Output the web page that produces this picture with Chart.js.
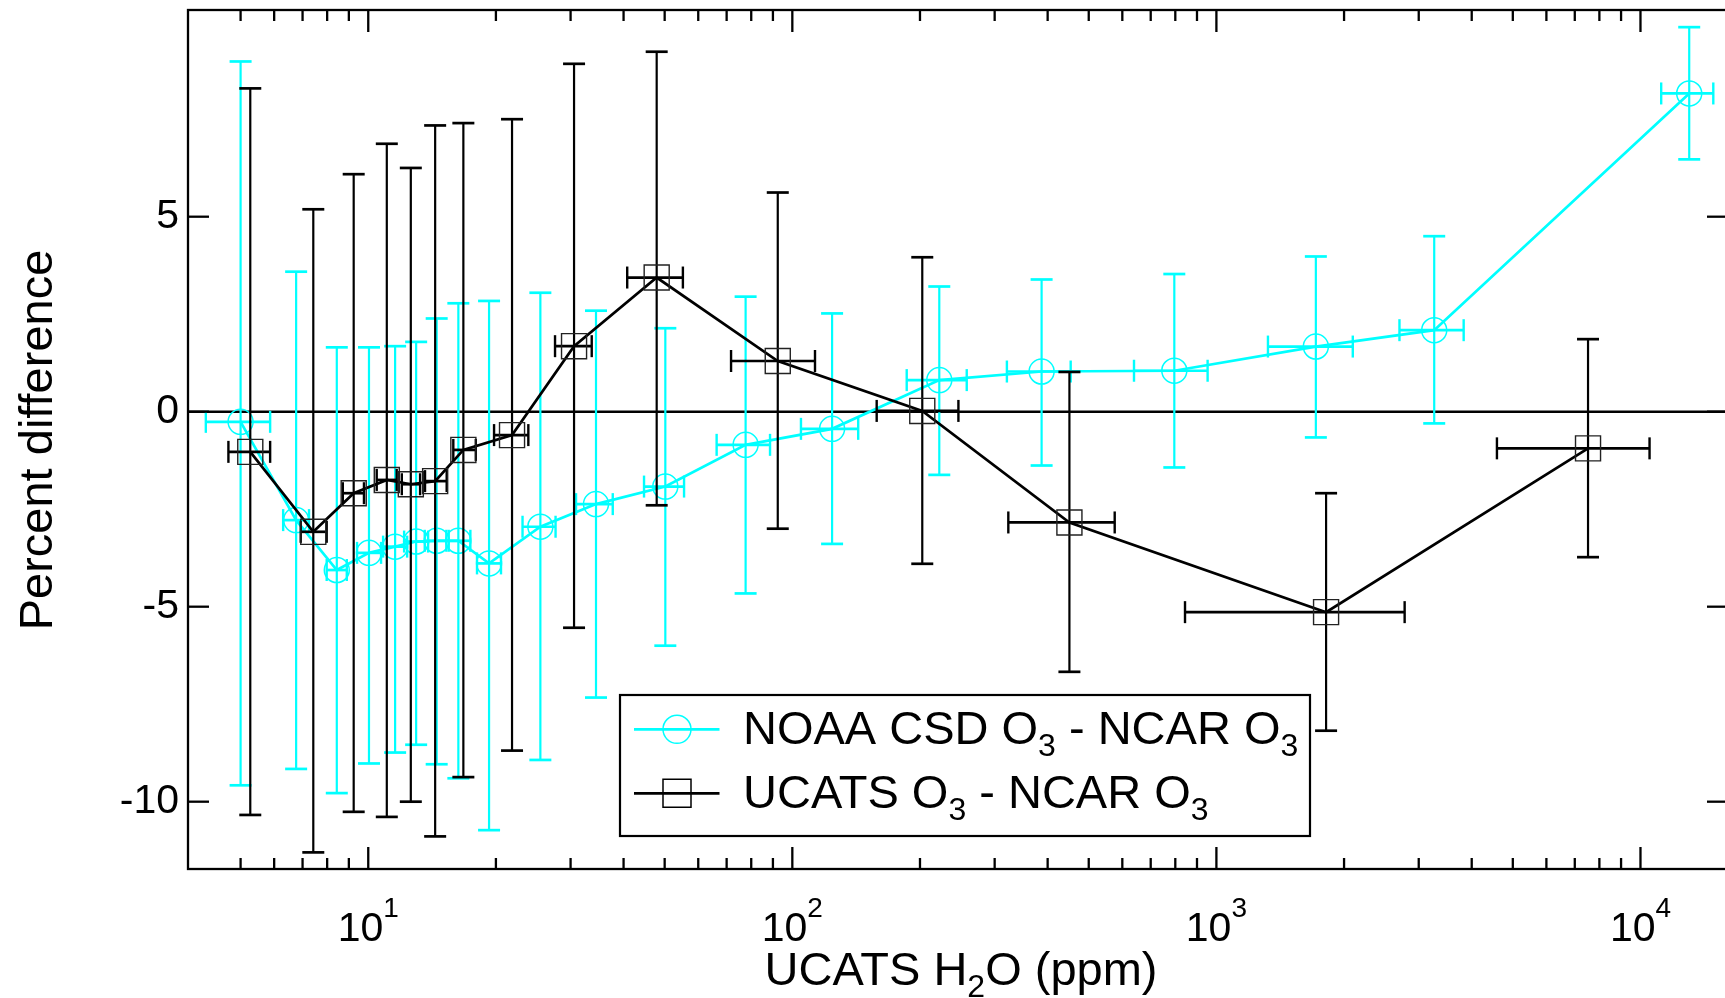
<!DOCTYPE html>
<html>
<head>
<meta charset="utf-8">
<script src="https://cdn.jsdelivr.net/npm/chart.js@4/dist/chart.umd.min.js"></script>
<style>
html,body{margin:0;padding:0;background:#fff;overflow:hidden;}
#wrap{position:absolute;left:0;top:0;width:1731px;height:998px;}
</style>
</head>
<body>
<div id="wrap"><canvas id="c" width="1731" height="998"></canvas></div>
<script>
// ---------------- data ----------------
const seriesNames = [
  [['NOAA CSD O', 0], ['3', 1], [' - NCAR O', 0], ['3', 1]],
  [['UCATS O', 0], ['3', 1], [' - NCAR O', 0], ['3', 1]]
];

// NOAA CSD O3 - NCAR O3 (cyan, circles)
const noaaX   = [5.0, 6.76, 8.43, 10.04, 11.57, 12.97, 14.5, 16.31, 19.27, 25.46, 34.44, 50.18, 77.6, 124.1, 222.1, 387.1, 795.7, 1716, 3263, 13030];
const noaaY   = [-0.26, -2.78, -4.06, -3.62, -3.46, -3.33, -3.31, -3.31, -3.89, -2.95, -2.37, -1.92, -0.85, -0.44, 0.81, 1.03, 1.05, 1.67, 2.09, 8.16];
const noaaYHi = [8.98, 3.59, 1.65, 1.65, 1.68, 1.79, 2.39, 2.78, 2.84, 3.05, 2.59, 2.14, 2.95, 2.52, 3.21, 3.39, 3.53, 3.98, 4.50, 9.86];
const noaaYLo = [-9.58, -9.16, -9.78, -9.02, -8.74, -8.54, -9.04, -9.40, -10.73, -8.93, -7.33, -6.00, -4.66, -3.39, -1.62, -1.38, -1.43, -0.66, -0.30, 6.47];
const noaaXLo = [4.14, 6.30, 7.98, 9.41, 10.84, 12.15, 13.59, 15.28, 18.05, 23.11, 30.9, 44.7, 66.3, 104.8, 186.1, 320.6, 639.3, 1323, 2702, 11190];
const noaaXHi = [5.87, 7.25, 8.90, 10.72, 12.35, 13.84, 15.48, 17.41, 20.56, 27.65, 37.72, 55.55, 88.6, 143.0, 257.8, 453.3, 953.4, 2097, 3829, 14850];

// UCATS O3 - NCAR O3 (black, squares)
const ucatsX   = [5.27, 7.42, 9.24, 11.06, 12.6, 14.38, 16.76, 21.83, 30.57, 47.88, 92.4, 202.5, 450.2, 1814, 7522];
const ucatsY   = [-1.03, -3.08, -2.09, -1.75, -1.86, -1.78, -0.98, -0.60, 1.68, 3.44, 1.30, 0.02, -2.84, -5.14, -0.94];
const ucatsYHi = [8.29, 5.19, 6.09, 6.87, 6.25, 7.34, 7.40, 7.50, 8.92, 9.23, 5.62, 3.96, 1.02, -2.09, 1.86];
const ucatsYLo = [-10.34, -11.30, -10.26, -10.39, -10.00, -10.89, -9.37, -8.69, -5.54, -2.40, -3.00, -3.90, -6.67, -8.18, -3.73];
const ucatsXLo = [4.68, 6.93, 8.71, 10.47, 12.0, 13.61, 15.87, 19.8, 27.57, 40.8, 71.7, 158.1, 323.1, 843.3, 4587];
const ucatsXHi = [5.87, 7.98, 9.77, 11.67, 13.25, 15.31, 17.93, 23.85, 33.65, 55.2, 113.1, 246.4, 575.7, 2779, 10505];

// axes
const xRange = [3.758, 16084];
const yRange = [-11.726, 10.30];
const yTickValues = [-10, -5, 0, 5];
const xMajorTicks = [10, 100, 1000, 10000];
const xTickLabels = [['10', '1'], ['10', '2'], ['10', '3'], ['10', '4']];
const xMinorMultipliers = [2, 3, 4, 5, 6, 7, 8, 9];
const xMinorStart = 5;
const xTitle = [['UCATS H', 0], ['2', 1], ['O (ppm)', 0]];
const yTitle = 'Percent difference';

// ---------------- styles ----------------
const FONT = '"Liberation Sans", Arial, Helvetica, sans-serif';
const CYAN = '#00FFFF';
const BLACK = '#000000';

const SERIES = [
  { x: noaaX, y: noaaY, yHi: noaaYHi, yLo: noaaYLo, xLo: noaaXLo, xHi: noaaXHi, color: CYAN },
  { x: ucatsX, y: ucatsY, yHi: ucatsYHi, yLo: ucatsYLo, xLo: ucatsXLo, xHi: ucatsXHi, color: BLACK }
];

function seg(ctx, x1, y1, x2, y2) {
  ctx.beginPath(); ctx.moveTo(x1, y1); ctx.lineTo(x2, y2); ctx.stroke();
}

function richText(ctx, parts, x, baseline, big, small, subDy, align) {
  let w = 0;
  parts.forEach(([t, sub]) => { ctx.font = (sub ? small : big) + 'px ' + FONT; w += ctx.measureText(t).width; });
  let cx = align === 'center' ? x - w / 2 : x;
  ctx.textAlign = 'left';
  ctx.textBaseline = 'alphabetic';
  parts.forEach(([t, sub]) => {
    ctx.font = (sub ? small : big) + 'px ' + FONT;
    ctx.fillText(t, cx, baseline + (sub ? subDy : 0));
    cx += ctx.measureText(t).width;
  });
}

const decorPlugin = {
  id: 'decor',
  beforeDatasetsDraw(chart) {
    const { ctx, chartArea: a, scales: { y } } = chart;
    const y0 = y.getPixelForValue(0);
    ctx.save();
    ctx.strokeStyle = BLACK; ctx.lineWidth = 2.5;
    seg(ctx, a.left, y0, a.right, y0);
    ctx.restore();
  },
  beforeDatasetDraw(chart, args) {
    const s = SERIES[args.index];
    const { ctx, scales: { x: xs, y: ys } } = chart;
    ctx.save();
    ctx.strokeStyle = s.color;
    ctx.lineCap = 'butt';
    const cap = 11;
    for (let i = 0; i < s.x.length; i++) {
      const px = xs.getPixelForValue(s.x[i]);
      const py = ys.getPixelForValue(s.y[i]);
      const pt = ys.getPixelForValue(s.yHi[i]);
      const pb = ys.getPixelForValue(s.yLo[i]);
      const pl = xs.getPixelForValue(s.xLo[i]);
      const pr = xs.getPixelForValue(s.xHi[i]);
      ctx.lineWidth = 2.2;
      seg(ctx, px, pt, px, pb);
      ctx.lineWidth = 2.7;
      seg(ctx, px - cap, pt, px + cap, pt);
      seg(ctx, px - cap, pb, px + cap, pb);
      seg(ctx, pl, py, pr, py);
      ctx.lineWidth = 2.4;
      seg(ctx, pl, py - cap, pl, py + cap);
      seg(ctx, pr, py - cap, pr, py + cap);
    }
    ctx.restore();
  },
  afterDraw(chart) {
    const { ctx, chartArea: a, scales: { x: xs, y: ys } } = chart;
    ctx.save();
    ctx.strokeStyle = BLACK; ctx.fillStyle = BLACK;
    // frame
    ctx.lineWidth = 2.3;
    ctx.strokeRect(a.left, a.top, a.right - a.left, a.bottom - a.top);
    // y ticks (inward, both sides)
    yTickValues.forEach(v => {
      const py = ys.getPixelForValue(v);
      seg(ctx, a.left, py, a.left + 21, py);
      seg(ctx, a.right, py, a.right - 21, py);
    });
    // x ticks (inward, bottom and top)
    xMajorTicks.forEach(v => {
      const px = xs.getPixelForValue(v);
      seg(ctx, px, a.bottom, px, a.bottom - 22);
      seg(ctx, px, a.top, px, a.top + 22);
    });
    for (let d = 1; d <= 10000; d *= 10) {
      xMinorMultipliers.forEach(m => {
        const v = m * d;
        if (v < xMinorStart || v < xRange[0] || v > xRange[1]) return;
        const px = xs.getPixelForValue(v);
        seg(ctx, px, a.bottom, px, a.bottom - 11);
        seg(ctx, px, a.top, px, a.top + 11);
      });
    }
    // x tick labels with superscripts
    xMajorTicks.forEach((v, i) => {
      const px = xs.getPixelForValue(v);
      const [base, exp] = xTickLabels[i];
      ctx.font = '41px ' + FONT; const w1 = ctx.measureText(base).width;
      ctx.font = '28px ' + FONT; const w2 = ctx.measureText(exp).width;
      const sx = px - (w1 + w2) / 2;
      ctx.textAlign = 'left'; ctx.textBaseline = 'alphabetic';
      ctx.font = '41px ' + FONT; ctx.fillText(base, sx, 941);
      ctx.font = '28px ' + FONT; ctx.fillText(exp, sx + w1, 917);
    });
    // x title
    richText(ctx, xTitle, (a.left + a.right) / 2 + 3, 985, 47, 32, 12, 'center');
    // y title
    ctx.save();
    ctx.translate(51.5, 440);
    ctx.rotate(-Math.PI / 2);
    ctx.font = '47px ' + FONT;
    ctx.textAlign = 'center'; ctx.textBaseline = 'alphabetic';
    ctx.fillText(yTitle, 0, 0);
    ctx.restore();
    // legend
    const lx = 620, ly = 695, lw = 690, lh = 141;
    ctx.fillStyle = '#fff';
    ctx.fillRect(lx, ly, lw, lh);
    ctx.lineWidth = 2.2; ctx.strokeStyle = BLACK;
    ctx.strokeRect(lx, ly, lw, lh);
    const rows = [729.3, 793.3];
    const baselines = [744, 808];
    SERIES.forEach((s, i) => {
      const ry = rows[i];
      ctx.strokeStyle = s.color; ctx.lineWidth = 2.7;
      seg(ctx, 634, ry, 719.5, ry);
      ctx.lineWidth = 1.5;
      ctx.beginPath();
      if (i === 0) ctx.arc(677, ry, 14, 0, Math.PI * 2);
      else ctx.rect(677 - 14, ry - 14, 28, 28);
      ctx.stroke();
      ctx.fillStyle = BLACK;
      richText(ctx, seriesNames[i], 743, baselines[i], 47, 32, 12, 'left');
    });
    ctx.restore();
  }
};

const chart = new Chart(document.getElementById('c'), {
  type: 'line',
  data: {
    datasets: [
      {
        label: 'NOAA CSD O3 - NCAR O3',
        data: noaaX.map((x, i) => ({ x, y: noaaY[i] })),
        borderColor: CYAN, borderWidth: 2.7,
        pointStyle: 'circle', pointRadius: 12.5, pointBorderWidth: 1.5,
        pointBorderColor: CYAN, pointBackgroundColor: 'rgba(0,0,0,0)',
        tension: 0, fill: false, order: 2
      },
      {
        label: 'UCATS O3 - NCAR O3',
        data: ucatsX.map((x, i) => ({ x, y: ucatsY[i] })),
        borderColor: BLACK, borderWidth: 2.7,
        pointStyle: 'rect', pointRadius: 17.7, pointBorderWidth: 1.4,
        pointBorderColor: '#222', pointBackgroundColor: 'rgba(0,0,0,0)',
        tension: 0, fill: false, order: 1
      }
    ]
  },
  options: {
    responsive: false,
    animation: false,
    devicePixelRatio: 1,
    layout: { autoPadding: false, padding: { left: 0, top: 10, right: 3, bottom: 0 } },
    plugins: { legend: { display: false }, tooltip: { enabled: false } },
    scales: {
      x: {
        type: 'logarithmic', min: xRange[0], max: xRange[1], bounds: 'data',
        grid: { display: false, drawTicks: false }, border: { display: false },
        ticks: { display: false },
        afterBuildTicks(s) { s.ticks = xMajorTicks.map(v => ({ value: v })); s.min = xRange[0]; s.max = xRange[1]; },
        afterFit(s) { s.height = 129; s.paddingLeft = 0; s.paddingRight = 0; }
      },
      y: {
        type: 'linear', min: yRange[0], max: yRange[1],
        grid: { display: false, drawTicks: false }, border: { display: false },
        ticks: { font: { family: FONT, size: 41 }, color: '#000', padding: 9, callback: v => String(v) },
        afterBuildTicks(s) { s.ticks = yTickValues.map(v => ({ value: v })); s.min = yRange[0]; s.max = yRange[1]; },
        afterFit(s) { s.width = 188; s.paddingTop = 0; s.paddingBottom = 0; }
      }
    }
  },
  plugins: [decorPlugin]
});
</script>
</body>
</html>
